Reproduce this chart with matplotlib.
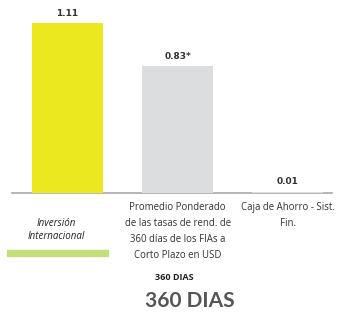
import matplotlib
matplotlib.use("Agg")
import matplotlib.pyplot as plt
from matplotlib.patches import Rectangle

# data
categories = ["Inversión\nInternacional",
              "Promedio Ponderado\nde las tasas de rend. de\n360 días de los FIAs a\nCorto Plazo en USD",
              "Caja de Ahorro - Sist.\nFin."]
values = [1.11, 0.83, 0.01]
value_labels = ["1.11", "0.83*", "0.01"]
colors = ["#ECE81F", "#DCDDDF", "#DCDDDF"]
subtitle = "360 DIAS"
title = "360 DIAS"

plt.rcParams['font.family'] = ['Open Sans', 'DejaVu Sans']

fig = plt.figure(figsize=(3.37, 3.14), dpi=100)
ax = fig.add_axes([0.036, 0.385, 0.949, 0.615])

x = list(range(len(values)))
ax.bar(x, values, width=0.645, color=colors, zorder=3)
for xi, v, lab in zip(x, values, value_labels):
    ax.text(xi, v + 0.035, lab, ha='center', va='bottom', fontsize=6.5,
            fontweight='bold', color='#333333', family='DejaVu Sans')

ax.set_xlim(-0.502, 2.4)
ax.set_ylim(0, 1.26)
for s in ['top', 'right', 'left']:
    ax.spines[s].set_visible(False)
ax.spines['bottom'].set_color('#AAAAAA')
ax.spines['bottom'].set_linewidth(1.2)
ax.set_yticks([])
ax.set_xticks([])

# category labels
for xi, cat in zip(x[1:], categories[1:]):
    ax.text(xi, -0.045, cat, transform=ax.get_xaxis_transform(), ha='center',
            va='top', fontsize=6.9, color='#333333', linespacing=1.62)

# first label (logo-like)
fig.patches.append(Rectangle((7 / 337, (314 - 256) / 314), 101 / 337, 6 / 314,
                             transform=fig.transFigure, color='#C4DE7A'))
ax.text(-0.1, -0.13, categories[0], transform=ax.get_xaxis_transform(),
        ha='center', va='top', fontsize=7, color='#222222', linespacing=1.2,
        fontstyle='italic')

fig.text(174.5 / 337, (314 - 277) / 314, subtitle, ha='center', va='center',
         fontsize=6.5, fontweight='bold', color='#222222')
fig.text(190 / 337, (314 - 301) / 314, title, ha='center', va='center',
         fontsize=15, color='#555555', family=['Lato', 'DejaVu Sans'],
         fontweight='bold')

fig.savefig("out.png", dpi=100)
